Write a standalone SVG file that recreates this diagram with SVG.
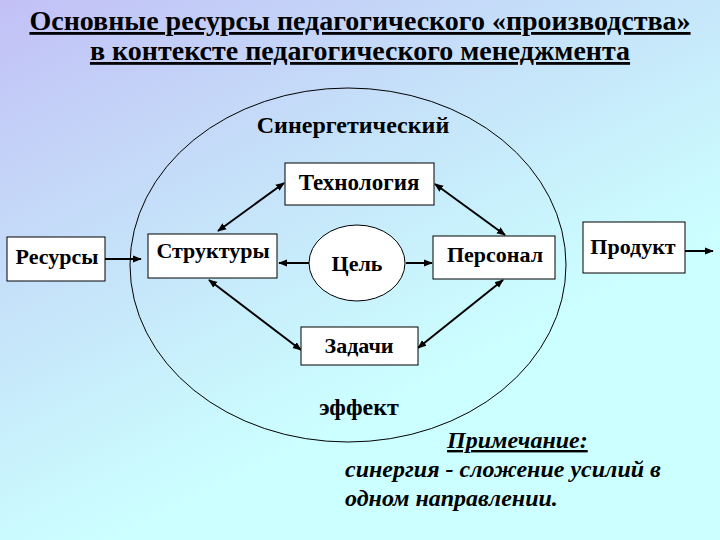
<svg xmlns="http://www.w3.org/2000/svg" width="720" height="540" viewBox="0 0 720 540">
<defs>
<linearGradient id="bg" x1="0" y1="0" x2="0.6" y2="0.9">
<stop offset="0" stop-color="#C2C0F6"/>
<stop offset="0.5" stop-color="#C6E6FA"/>
<stop offset="0.85" stop-color="#CCFFFF"/>
</linearGradient>
<marker id="ah" viewBox="0 0 10 10" refX="9" refY="5" markerWidth="9" markerHeight="9" markerUnits="userSpaceOnUse" orient="auto-start-reverse">
<path d="M0,1 L10,5 L0,9 Z" fill="#000"/>
</marker>
<style>
.box{fill:#fff;stroke:#000;stroke-width:1}
.c{stroke:#000;stroke-width:2;fill:none}
</style>
</defs>
<rect width="720" height="540" fill="url(#bg)"/>
<g id="title" font-family="Liberation Serif, serif" font-weight="bold" font-size="28" text-anchor="middle" text-decoration="underline">
<text x="360" y="30">Основные ресурсы педагогического «производства»</text>
<text x="360" y="60">в контексте педагогического менеджмента</text>
</g>
<g id="synergy">
<ellipse cx="348" cy="265" rx="218" ry="177" fill="none" stroke="#000" stroke-width="1"/>
<text x="353" y="133" font-family="Liberation Serif, serif" font-weight="bold" font-size="24" text-anchor="middle">Синергетический</text>
<text x="359" y="415" font-family="Liberation Serif, serif" font-weight="bold" font-size="24" text-anchor="middle">эффект</text>
</g>
<g id="connectors">
<line class="c" x1="105" y1="259" x2="141" y2="259" marker-end="url(#ah)"/>
<line class="c" x1="309" y1="263" x2="279" y2="263" marker-end="url(#ah)"/>
<line class="c" x1="406" y1="263" x2="432" y2="263" marker-end="url(#ah)"/>
<line class="c" x1="218" y1="231" x2="284" y2="183" marker-start="url(#ah)" marker-end="url(#ah)"/>
<line class="c" x1="435" y1="184" x2="505" y2="235" marker-start="url(#ah)" marker-end="url(#ah)"/>
<line class="c" x1="209" y1="280" x2="301" y2="350" marker-start="url(#ah)" marker-end="url(#ah)"/>
<line class="c" x1="503" y1="280" x2="418" y2="348" marker-start="url(#ah)" marker-end="url(#ah)"/>
<line class="c" x1="685" y1="251" x2="713" y2="251" marker-end="url(#ah)"/>
</g>
<g font-family="Liberation Serif, serif" font-weight="bold" font-size="22" text-anchor="middle">
<g id="resursy">
<rect class="box" x="7" y="237" width="98" height="44"/>
<text x="57" y="264">Ресурсы</text>
</g>
<g id="struktury">
<rect class="box" x="148" y="234" width="129" height="44"/>
<text x="213" y="258">Структуры</text>
</g>
<g id="tehnologiya">
<rect class="box" x="285" y="163" width="149" height="42"/>
<text x="359" y="190" font-size="23">Технология</text>
</g>
<g id="tsel">
<ellipse cx="357" cy="263" rx="48" ry="38" fill="#fff" stroke="#000" stroke-width="1"/>
<text x="357" y="271">Цель</text>
</g>
<g id="personal">
<rect class="box" x="433" y="236" width="122" height="43"/>
<text x="495" y="262">Персонал</text>
</g>
<g id="produkt">
<rect class="box" x="583" y="222" width="102" height="51"/>
<text x="633" y="254">Продукт</text>
</g>
<g id="zadachi">
<rect class="box" x="301" y="327" width="117" height="38"/>
<text x="359" y="353">Задачи</text>
</g>
</g>
<g id="note" font-family="Liberation Serif, serif" font-weight="bold" font-style="italic" font-size="24">
<text x="447" y="448" text-decoration="underline">Примечание:</text>
<text x="345" y="477">синергия - сложение усилий в</text>
<text x="345" y="506">одном направлении.</text>
</g>
</svg>
